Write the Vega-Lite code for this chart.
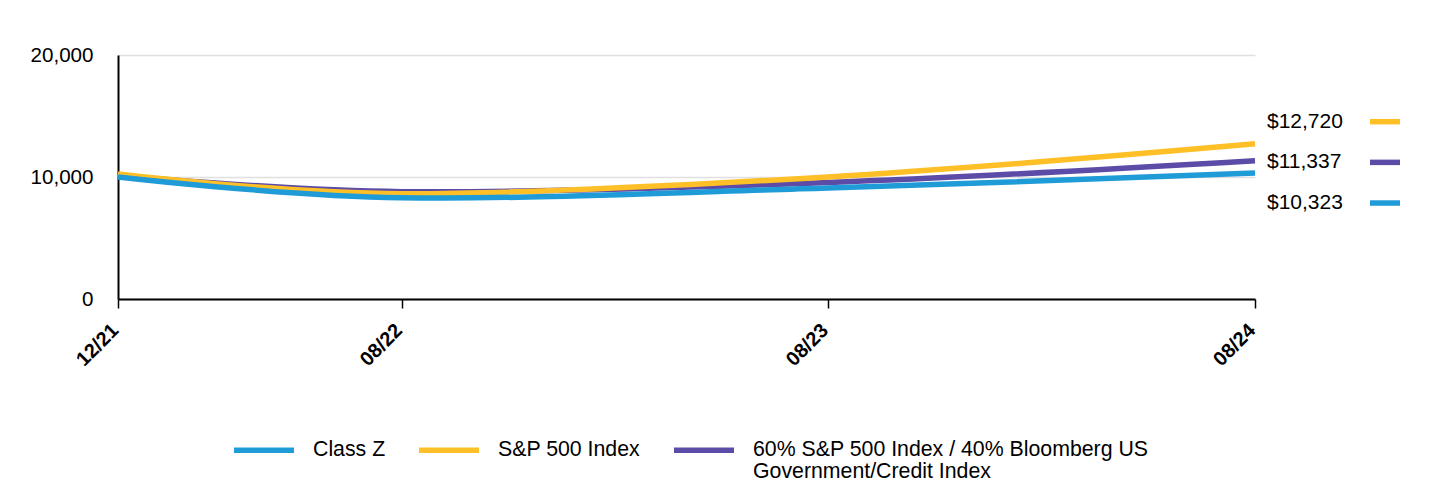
{
  "$schema": "https://vega.github.io/schema/vega-lite/v6.json",
  "width": 1137,
  "height": 244,
  "autosize": {"type": "none"},
  "padding": {"left": 118, "top": 55, "right": 185, "bottom": 193},
  "background": "white",
  "config": {"font": "Liberation Sans", "view": {"stroke": null}},
  "datasets": {
    "series": [
      {"series": "60% S&P 500 Index / 40% Bloomberg US Government/Credit Index", "date": "2021-12-31T00:00:00", "value": 10130},
      {"series": "60% S&P 500 Index / 40% Bloomberg US Government/Credit Index", "date": "2022-08-31T00:00:00", "value": 8800},
      {"series": "60% S&P 500 Index / 40% Bloomberg US Government/Credit Index", "date": "2023-08-31T00:00:00", "value": 9550},
      {"series": "60% S&P 500 Index / 40% Bloomberg US Government/Credit Index", "date": "2024-08-31T00:00:00", "value": 11337},
      {"series": "S&P 500 Index", "date": "2021-12-31T00:00:00", "value": 10250},
      {"series": "S&P 500 Index", "date": "2022-08-31T00:00:00", "value": 8635},
      {"series": "S&P 500 Index", "date": "2023-08-31T00:00:00", "value": 10008},
      {"series": "S&P 500 Index", "date": "2024-08-31T00:00:00", "value": 12720},
      {"series": "Class Z", "date": "2021-12-31T00:00:00", "value": 10000},
      {"series": "Class Z", "date": "2022-08-31T00:00:00", "value": 8300},
      {"series": "Class Z", "date": "2023-08-31T00:00:00", "value": 9100},
      {"series": "Class Z", "date": "2024-08-31T00:00:00", "value": 10323}
    ],
    "ends": [
      {"series": "S&P 500 Index", "date": "2024-08-31T00:00:00", "value": 12720},
      {"series": "60% S&P 500 Index / 40% Bloomberg US Government/Credit Index", "date": "2024-08-31T00:00:00", "value": 11337},
      {"series": "Class Z", "date": "2024-08-31T00:00:00", "value": 10323}
    ]
  },
  "resolve": {"scale": {"y": "independent"}},
  "layer": [
    {
      "data": {"name": "series"},
      "mark": {"type": "line", "interpolate": "cardinal", "strokeWidth": 5.5},
      "encoding": {
        "x": {
          "field": "date", "type": "temporal",
          "scale": {"domain": [{"year": 2021, "month": 12, "date": 31}, {"year": 2024, "month": 8, "date": 31}]},
          "axis": {
            "values": [{"year": 2021, "month": 12, "date": 31}, {"year": 2022, "month": 8, "date": 31}, {"year": 2023, "month": 8, "date": 31}, {"year": 2024, "month": 8, "date": 31}],
            "format": "%m/%y", "labelAngle": -45, "labelAlign": "right", "labelBaseline": "middle",
            "labelFontWeight": "bold", "labelFontSize": 20, "labelOffset": -3,
            "labelColor": "black", "tickSize": 9, "tickColor": "black", "tickWidth": 1.5,
            "domainColor": "black", "domainWidth": 2, "grid": false, "title": null, "labelPadding": 19
          }
        },
        "y": {
          "field": "value", "type": "quantitative",
          "scale": {"domain": [0, 20000]},
          "axis": {
            "values": [0, 10000, 20000], "format": ",.0f", "labelFontSize": 20.6, "labelColor": "black",
            "ticks": false, "labelPadding": 25, "domainColor": "black", "domainWidth": 2,
            "gridColor": "#e0e0e0", "gridWidth": 1.5, "title": null
          }
        },
        "color": {
          "field": "series", "type": "nominal",
          "scale": {
            "domain": ["Class Z", "S&P 500 Index", "60% S&P 500 Index / 40% Bloomberg US Government/Credit Index"],
            "range": ["#1F9BD7", "#FFBF27", "#5C4BA7"]
          },
          "legend": {
            "orient": "none", "legendX": 113, "legendY": 362, "direction": "horizontal", "title": null,
            "symbolType": "stroke", "symbolSize": 3600, "symbolStrokeWidth": 5.5, "symbolOpacity": 1,
            "labelFontSize": 21.3, "labelColor": "black", "labelOffset": 16, "columnPadding": 22, "labelLimit": 500,
            "labelExpr": "indexof(datum.label, 'Bloomberg') >= 0 ? ['60% S&P 500 Index / 40% Bloomberg US', 'Government/Credit Index'] : [datum.label, '']",
            "encode": {"labels": {"update": {"lineHeight": {"value": 22}}}}
          }
        }
      }
    },
    {
      "data": {"name": "ends"},
      "encoding": {
        "x": {"field": "date", "type": "temporal"},
        "y": {
          "field": "series", "type": "nominal", "axis": null,
          "scale": {"type": "point", "domain": ["S&P 500 Index", "60% S&P 500 Index / 40% Bloomberg US Government/Credit Index", "Class Z", " ", "  "], "padding": 1, "align": 0.82}
        }
      },
      "layer": [
        {
          "mark": {"type": "text", "align": "left", "baseline": "middle", "dx": 12, "fontSize": 21, "color": "black"},
          "encoding": {"text": {"field": "value", "type": "quantitative", "format": "$,.0f"}}
        },
        {
          "mark": {"type": "point", "shape": "stroke", "filled": false, "size": 900, "strokeWidth": 5.5, "opacity": 1},
          "encoding": {
            "xOffset": {"value": 130},
            "color": {"field": "series", "type": "nominal"}
          }
        }
      ]
    }
  ]
}
